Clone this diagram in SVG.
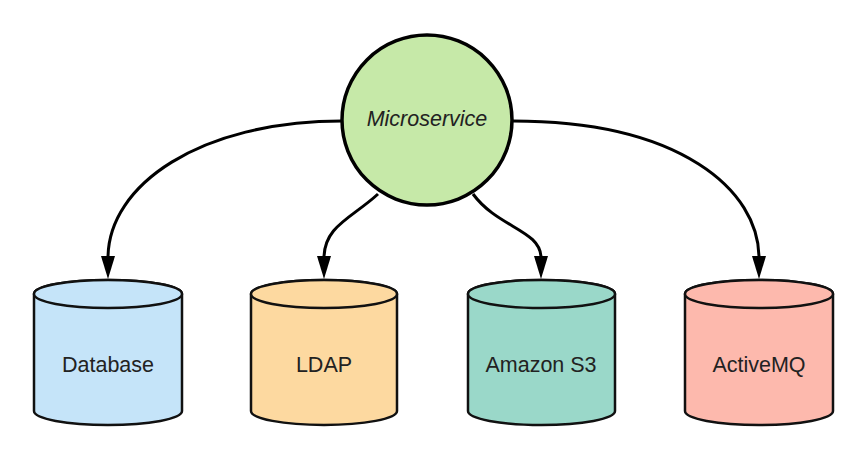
<svg xmlns="http://www.w3.org/2000/svg" width="867" height="455" viewBox="0 0 867 455">
<defs>
<style>
.lbl{font-family:"Liberation Sans",Arial,sans-serif;font-size:21.5px;fill:#222;text-anchor:middle}
.cyl{stroke:#111;stroke-width:2.5}
.conn{fill:none;stroke:#000;stroke-width:3}
.head{fill:#000}
</style>
</defs>
<rect width="867" height="455" fill="#fff"/>
<g id="connectors">
<path class="conn" d="M342,121 C200,121 108,185 108,258"/>
<path class="conn" d="M378,194 C352,218 324,226 324,258"/>
<path class="conn" d="M473,194 C498,228 541,230 541,258"/>
<path class="conn" d="M513,121 C680,121 759,190 759,258"/>
<path class="head" d="M101,256 L115,256 L108,279 Z"/>
<path class="head" d="M317,256 L331,256 L324,279 Z"/>
<path class="head" d="M534,256 L548,256 L541,279 Z"/>
<path class="head" d="M752,256 L766,256 L759,279 Z"/>
</g>
<g id="microservice">
<circle cx="427" cy="120" r="85" fill="#c6e9a8" stroke="#000" stroke-width="3.5"/>
<text class="lbl" x="427" y="126" font-style="italic" font-size="22.5">Microservice</text>
</g>
<g id="database">
<path class="cyl" fill="#c5e4f9" d="M34,294 L34,411 A74,14 0 0 0 182,411 L182,294 A74,14 0 0 0 34,294 Z"/>
<ellipse class="cyl" cx="108" cy="294" rx="74" ry="14" fill="#c5e4f9"/>
<text class="lbl" x="108" y="372">Database</text>
</g>
<g id="ldap">
<path class="cyl" fill="#fdd9a0" d="M251,294 L251,411 A73,14 0 0 0 397,411 L397,294 A73,14 0 0 0 251,294 Z"/>
<ellipse class="cyl" cx="324" cy="294" rx="73" ry="14" fill="#fdd9a0"/>
<text class="lbl" x="324" y="372">LDAP</text>
</g>
<g id="amazon-s3">
<path class="cyl" fill="#9ad8c9" d="M468,294 L468,411 A73.5,14 0 0 0 615,411 L615,294 A73.5,14 0 0 0 468,294 Z"/>
<ellipse class="cyl" cx="541.5" cy="294" rx="73.5" ry="14" fill="#9ad8c9"/>
<text class="lbl" x="541" y="372">Amazon S3</text>
</g>
<g id="activemq">
<path class="cyl" fill="#fdb9ad" d="M685,294 L685,411 A74,14 0 0 0 833,411 L833,294 A74,14 0 0 0 685,294 Z"/>
<ellipse class="cyl" cx="759" cy="294" rx="74" ry="14" fill="#fdb9ad"/>
<text class="lbl" x="759" y="372">ActiveMQ</text>
</g>
</svg>
